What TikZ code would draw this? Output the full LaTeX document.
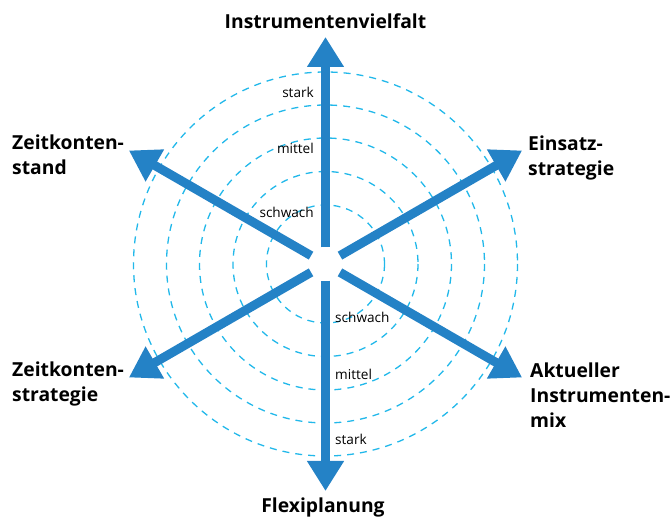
\documentclass[tikz,border=0pt]{standalone}
\usepackage{fontspec}
\setmainfont{Open Sans}
\usetikzlibrary{arrows.meta}
\definecolor{axisblue}{RGB}{36,130,198}
\definecolor{ringcyan}{RGB}{34,184,234}
\tikzset{
  ring/.style={draw=ringcyan, line width=1.3pt, dash pattern=on 7pt off 6pt},
  axisarrow/.style={draw=axisblue, line width=9pt, -{Triangle[width=35pt,length=30pt]}},
  axislabel/.style={font=\bfseries\fontsize{19.3}{25}\selectfont, inner sep=0pt, align=left},
  levellabel/.style={font=\fontsize{13.6}{15}\selectfont, inner sep=0pt},
}
\begin{document}
\begin{tikzpicture}[x=1pt,y=-1pt]
\useasboundingbox (0,0) rectangle (670,518);
\coordinate (o) at (325.5,264);
\foreach \r in {59,92.5,126,159,192}{\draw[ring] (o) circle[radius=\r];}
\node[circle, minimum size=33pt, inner sep=0pt] (c) at (o) {};
\coordinate (tN) at (325.5,37);
\coordinate (tS) at (325.5,491);
\coordinate (tNE) at (522.1,150.5);
\coordinate (tNW) at (128.9,150.5);
\coordinate (tSW) at (128.9,377.5);
\coordinate (tSE) at (522.1,377.5);
\foreach \t in {tN,tS,tNE,tNW,tSW,tSE}{\draw[axisarrow] (c) -- (\t);}
% axis labels (base anchor = baseline of last line)
\node[axislabel, anchor=base] (lN) at (325.5,29) {Instrumentenvielfalt};
\node[axislabel, anchor=base] (lS) at (323,513) {Flexiplanung};
\node[axislabel, anchor=base west] (lNW) at (12,174.3) {Zeitkonten-\\stand};
\node[axislabel, anchor=base west] (lSW) at (12,401.7) {Zeitkonten-\\strategie};
\node[axislabel, anchor=base west] (lNE) at (528,176) {Einsatz-\\strategie};
\node[axislabel, anchor=base west] (lSE) at (530,427.3) {Aktueller\\Instrumenten-\\mix};
% level labels
\node[levellabel, anchor=base east] (n1) at (314,97.3) {stark};
\node[levellabel, anchor=base east] (n2) at (314,154) {mittel};
\node[levellabel, anchor=base east] (n3) at (314,217.3) {schwach};
\node[levellabel, anchor=base west] (s1) at (335,322.7) {schwach};
\node[levellabel, anchor=base west] (s2) at (335,380) {mittel};
\node[levellabel, anchor=base west] (s3) at (335,445) {stark};
\end{tikzpicture}
\end{document}
